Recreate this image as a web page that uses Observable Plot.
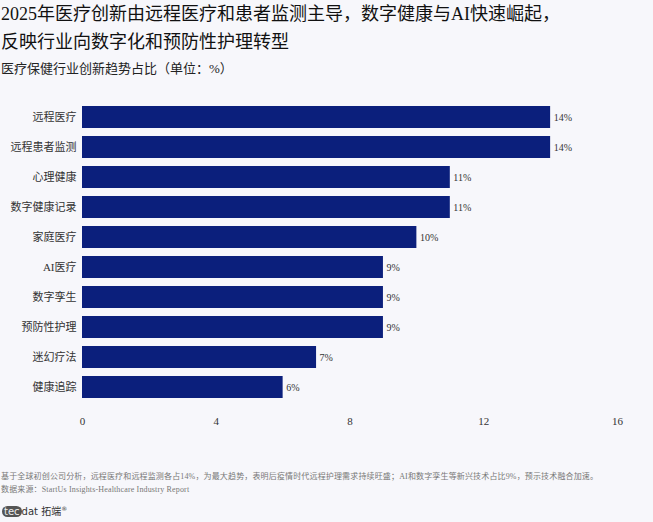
<!DOCTYPE html>
<html><head><meta charset="utf-8">
<script src="https://cdn.jsdelivr.net/npm/d3@7"></script>
<script src="https://cdn.jsdelivr.net/npm/@observablehq/plot@0.6"></script>
<style>
body{margin:0;background:#f7f7fb;width:653px;height:522px;overflow:hidden;font-family:"Liberation Serif","Noto Sans CJK SC",serif;}
#title{position:absolute;left:1px;top:0;font-size:18px;line-height:28px;color:#111;}
#sub{position:absolute;left:1px;top:58px;font-size:13px;color:#222;}
#chart{position:absolute;left:0;top:88px;}
#foot{position:absolute;left:1px;top:470px;font-size:8px;line-height:13px;color:#777;letter-spacing:0.15px;}
#logo{position:absolute;left:2px;top:503px;font-size:10px;color:#333;font-family:"DejaVu Sans","Noto Sans CJK SC",sans-serif;}
#logo .c{display:inline-block;background:#555;color:#eee;border-radius:8px;padding:0 2px;}
</style></head><body>
<div id="title">2025年医疗创新由远程医疗和患者监测主导，数字健康与AI快速崛起，<br>反映行业向数字化和预防性护理转型</div>
<div id="sub">医疗保健行业创新趋势占比（单位：%）</div>
<div id="chart"></div>
<div id="foot">基于全球初创公司分析，远程医疗和远程监测各占14%，为最大趋势，表明后疫情时代远程护理需求持续旺盛；AI和数字孪生等新兴技术占比9%，预示技术融合加速。<br>数据来源：StartUs Insights-Healthcare Industry Report</div>
<div id="logo"><span class="c">tec</span>dat 拓端<sup style="font-size:6px">®</sup></div>
<script>
const categories = ["远程医疗","远程患者监测","心理健康","数字健康记录","家庭医疗","AI医疗","数字孪生","预防性护理","迷幻疗法","健康追踪"];
const values = [14,14,11,11,10,9,9,9,7,6];
const xTicks = [0,4,8,12,16];
const data = categories.map((c,i)=>({cat:c, v:values[i]}));
const chart = Plot.plot({
  width:653, height:350,
  marginLeft:82, marginRight:36, marginTop:5, marginBottom:27,
  style:{background:"transparent", fontFamily:"'Liberation Serif','Noto Sans CJK SC',serif", fontSize:"11px", color:"#333"},
  x:{domain:[0,16], ticks:xTicks, label:null, tickSize:0, tickPadding:6},
  y:{domain:categories, label:null, padding:0.28, tickSize:0, tickPadding:6},
  marks:[
    Plot.barX(data,{x:"v", y:"cat", fill:"#0b1f7c"}),
    Plot.text(data,{x:"v", y:"cat", text:d=>d.v+"%", dx:3, textAnchor:"start", fontSize:10, fill:"#333"})
  ]
});
document.getElementById("chart").append(chart);
</script>
</body></html>
